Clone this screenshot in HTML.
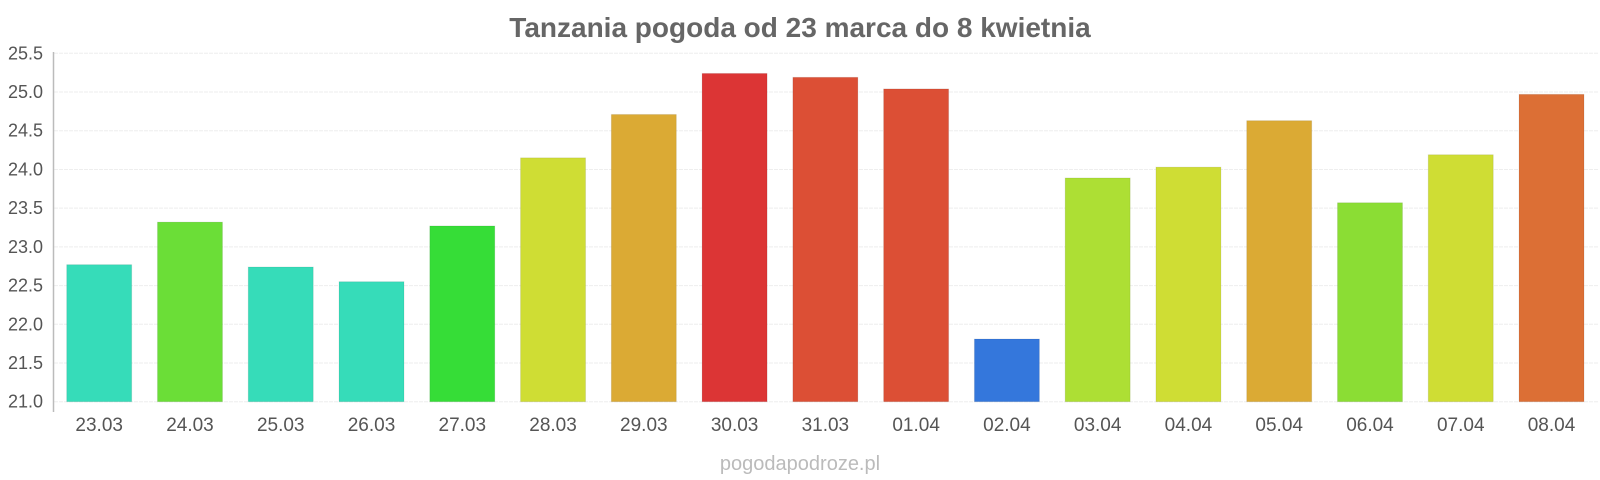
<!DOCTYPE html>
<html><head><meta charset="utf-8"><style>
body{margin:0;background:#fff;}
svg{display:block;font-family:"Liberation Sans",sans-serif;}
</style></head><body>
<svg width="1600" height="480" viewBox="0 0 1600 480">
<text x="800" y="37" text-anchor="middle" font-size="28" font-weight="bold" fill="#666">Tanzania pogoda od 23 marca do 8 kwietnia</text>
<g id="grid" stroke="#eee" stroke-width="1" stroke-dasharray="4,1"></g>
<line x1="53.5" y1="52" x2="53.5" y2="412" stroke="#bbb" stroke-width="1.5"/>
<g id="yl" font-size="18" fill="#555" text-anchor="end"></g>
<g id="bars"></g>
<g id="xl" font-size="19" fill="#555" text-anchor="middle"></g>
<text x="800" y="470" text-anchor="middle" font-size="20" fill="#bbb">pogodapodroze.pl</text>
</svg>
<script>
var ns="http://www.w3.org/2000/svg";
function el(p,t,a,txt){var e=document.createElementNS(ns,t);for(var k in a)e.setAttribute(k,a[k]);if(txt)e.textContent=txt;document.getElementById(p).appendChild(e);}
function Y(v){return 401.7-(v-21)*77.42;}
for(var i=0;i<=9;i++){var v=21+i*0.5,y=Y(v);el("grid","line",{x1:54,x2:1598,y1:y,y2:y});el("yl","text",{x:43,y:y+6},v.toFixed(1));}
var d=[["23.03",22.77,"#36dcb9"],["24.03",23.32,"#6bde37"],["25.03",22.74,"#36dcb9"],["26.03",22.55,"#36dcb9"],["27.03",23.27,"#36dd37"],["28.03",24.15,"#cfdd34"],["29.03",24.71,"#dbaa34"],["30.03",25.24,"#dc3535"],["31.03",25.19,"#dc4f35"],["01.04",25.04,"#dc4f35"],["02.04",21.81,"#3477dc"],["03.04",23.89,"#addf34"],["04.04",24.03,"#cfdd34"],["05.04",24.63,"#dbaa34"],["06.04",23.57,"#8bdd34"],["07.04",24.19,"#cfdd34"],["08.04",24.97,"#dc6f35"]];
d.forEach(function(b,i){var x=66.7+i*90.77,y=Y(b[1]);el("bars","rect",{x:x,y:y,width:65,height:401.7-y,fill:b[2],stroke:"rgba(0,0,0,0.08)"});el("xl","text",{x:x+32.5,y:431},b[0]);});
</script>
</body></html>
